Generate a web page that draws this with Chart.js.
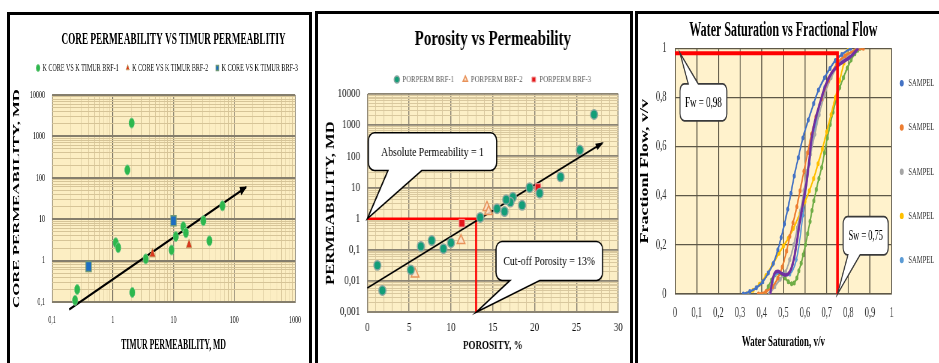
<!DOCTYPE html>
<html lang="en">
<head>
<meta charset="utf-8">
<title>Core permeability, porosity and fractional flow</title>
<script src="https://cdn.jsdelivr.net/npm/chart.js@4.4.1/dist/chart.umd.min.js"></script>
<style>
  html, body { margin: 0; padding: 0; background: #fff; }
  body { position: relative; width: 939px; height: 363px; overflow: hidden; }
  .frame { position: absolute; box-sizing: border-box; height: 420px; border: 3px solid #000; }
  canvas { position: absolute; top: 0; }
</style>
</head>
<body>
<div class="frame" style="left:7px; top:12px; width:305px;"></div>
<div class="frame" style="left:315px; top:11px; width:318px;"></div>
<div class="frame" style="left:635px; top:11px; width:340px;"></div>
<canvas id="permChart" width="569" height="363" style="left:0; width:313px; height:363px;"></canvas>
<canvas id="poroChart" width="428" height="363" style="left:313px; width:321px; height:363px;"></canvas>
<canvas id="flowChart" width="508" height="363" style="left:634px; width:305px; height:363px;"></canvas>
<script>
// ---------- Core permeability vs Timur permeability (mD) ----------
const timurBrf1 = [2.05, 1.74, 1.12, 1.23, 3.5, 9.3, 10.9, 14.5, 16, 31, 39, 64, 2.1, 0.26, 0.24];
const coreBrf1  = [2100, 155, 2.7, 2.05, 1.1, 1.8, 3.8, 6.6, 4.7, 9.2, 3.0, 21, 0.17, 0.2, 0.11];
const timurBrf2 = [4.5, 18];
const coreBrf2  = [1.45, 2.4];
const timurBrf3 = [0.4, 10];
const coreBrf3  = [0.72, 9.2];
const timurTrend = [0.193, 156];
const coreTrend  = [0.0667, 59];
const timurRange = [0.1, 1000];
const coreRange  = [0.1, 10000];
const permLegend = ['K CORE VS K TIMUR BRF-1', 'K CORE VS K TIMUR BRF-2', 'K CORE VS K TIMUR BRF-3'];

// ---------- Porosity (%) vs permeability (mD) ----------
const porosityBrf1 = [27.1, 25.4, 23.1, 20.6, 19.4, 18.5, 17.4, 17.1, 16.6, 16.4, 15.5, 13.5, 10, 9.1, 7.7, 6.4, 5.2, 1.2, 1.8];
const permBrf1     = [2200, 160, 22, 6.6, 9.9, 2.7, 4.9, 3.4, 4.1, 1.7, 2.1, 1.1, 0.17, 0.11, 0.2, 0.13, 0.023, 0.032, 0.005];
const porosityBrf2 = [5.7, 11.2, 14.3, 14.5];
const permBrf2     = [0.017, 0.2, 2.3, 1.7];
const porosityBrf3 = [11.3, 20.4];
const permBrf3     = [0.72, 10];
const porosityTrend = [0, 28.1];
const permTrend     = [0.006, 265];
const porosityRange = [0, 30];
const permRange     = [0.001, 10000];
const cutoffPorosity = 13;
const absolutePermeability = 1;
const poroLegend = ['PORPERM BRF-1', 'PORPERM BRF-2', 'PORPERM BRF-3'];

// ---------- Water saturation vs fractional flow ----------
const swBlue   = [0.315, 0.345, 0.375, 0.405, 0.43, 0.454, 0.475, 0.49, 0.505, 0.52, 0.535, 0.55, 0.569, 0.59, 0.615, 0.64, 0.662, 0.69, 0.715, 0.74, 0.77, 0.81];
const fwBlue   = [0, 0.01, 0.025, 0.05, 0.085, 0.125, 0.18, 0.23, 0.285, 0.345, 0.41, 0.48, 0.555, 0.635, 0.708, 0.775, 0.83, 0.88, 0.918, 0.95, 0.975, 1.0];
const swOrange = [0.385, 0.42, 0.45, 0.475, 0.495, 0.515, 0.53, 0.545, 0.562, 0.577, 0.595, 0.612, 0.63, 0.65, 0.677, 0.708, 0.746, 0.785, 0.83, 0.869];
const fwOrange = [0, 0.01, 0.03, 0.065, 0.11, 0.175, 0.235, 0.29, 0.355, 0.42, 0.5, 0.575, 0.65, 0.72, 0.795, 0.87, 0.935, 0.97, 0.99, 1.0];
const swGrey   = [0.435, 0.46, 0.485, 0.51, 0.53, 0.548, 0.565, 0.58, 0.595, 0.61, 0.625, 0.645, 0.665, 0.69, 0.72, 0.76, 0.8, 0.84];
const fwGrey   = [0, 0.03, 0.06, 0.09, 0.14, 0.2, 0.27, 0.34, 0.42, 0.5, 0.57, 0.65, 0.73, 0.81, 0.88, 0.94, 0.975, 1.0];
const swYellow = [0.33, 0.36, 0.39, 0.42, 0.45, 0.48, 0.5, 0.523, 0.546, 0.577, 0.6, 0.62, 0.64, 0.66, 0.68, 0.7, 0.72, 0.74, 0.76, 0.78, 0.8];
const fwYellow = [0, 0.015, 0.04, 0.075, 0.12, 0.166, 0.195, 0.227, 0.267, 0.328, 0.376, 0.42, 0.47, 0.53, 0.59, 0.66, 0.73, 0.8, 0.87, 0.94, 1.0];
const swSky    = [0.435, 0.45, 0.47, 0.5, 0.53, 0.56, 0.59, 0.62, 0.65, 0.69, 0.74, 0.8, 0.85];
const fwSky    = [0, 0.05, 0.085, 0.08, 0.08, 0.14, 0.32, 0.53, 0.69, 0.84, 0.92, 0.96, 1.0];
const swGreen  = [0.415, 0.43, 0.446, 0.462, 0.477, 0.493, 0.508, 0.523, 0.538, 0.55, 0.562, 0.572, 0.582, 0.592, 0.602, 0.612, 0.623, 0.632, 0.641, 0.652, 0.664, 0.677, 0.69, 0.703, 0.716, 0.729, 0.743, 0.76, 0.777, 0.795, 0.812, 0.83, 0.843, 0.854];
const fwGreen  = [0, 0.03, 0.057, 0.078, 0.087, 0.08, 0.065, 0.05, 0.042, 0.045, 0.065, 0.095, 0.125, 0.16, 0.2, 0.245, 0.295, 0.34, 0.38, 0.425, 0.47, 0.515, 0.575, 0.635, 0.69, 0.74, 0.79, 0.84, 0.88, 0.92, 0.952, 0.978, 0.992, 1.0];
const swPurple = [0.44, 0.448, 0.46, 0.475, 0.49, 0.505, 0.52, 0.535, 0.548, 0.56, 0.572, 0.585, 0.597, 0.608, 0.62, 0.63, 0.645, 0.67, 0.695, 0.723, 0.76, 0.81, 0.846];
const fwPurple = [0, 0.05, 0.085, 0.092, 0.085, 0.078, 0.08, 0.1, 0.14, 0.2, 0.27, 0.34, 0.4, 0.46, 0.55, 0.63, 0.7, 0.78, 0.85, 0.9, 0.935, 0.966, 1.0];
const fwCutoff = 0.98;
const swCutoff = 0.75;
const flowLegend = 'SAMPEL';

// ---------- helpers ----------
const SERIF = "'Liberation Serif', 'Times New Roman', serif";
Chart.defaults.font.family = SERIF;
Chart.defaults.color = '#000';

const pairs = (xs, ys) => xs.map((v, i) => ({ x: v, y: ys[i] }));
const decimalComma = v => String(Number(Number(v).toPrecision(6))).replace('.', ',');
const isDecade = v => Math.abs(Math.log10(v) - Math.round(Math.log10(v))) < 1e-9;
function logTicks(min, max) {
  const out = [];
  for (let e = Math.round(Math.log10(min)); e < Math.round(Math.log10(max)); e++) {
    for (let m = 1; m <= 9; m++) out.push(Number((m * Math.pow(10, e)).toPrecision(6)));
  }
  out.push(max);
  return out.map(v => ({ value: v }));
}

// fills the plotting area
const plotBackground = {
  id: 'plotBackground',
  beforeDraw(chart, args, opts) {
    const { ctx, chartArea: a } = chart;
    ctx.save();
    ctx.fillStyle = opts.color;
    ctx.fillRect(a.left, a.top, a.width, a.height);
    ctx.restore();
  }
};

// shifts the legend after layout without changing the plot area
const legendOffset = {
  id: 'legendOffset',
  afterLayout(chart, args, opts) {
    const lg = chart.legend;
    if (!lg) return;
    const dx = opts.dx || 0, dy = opts.dy || 0;
    lg.left += dx;
    if (lg.isHorizontal()) lg.right += dx;   // vertical lists keep their right edge so labels are not clipped
    lg.top += dy; lg.bottom += dy;
  }
};

// arrow tips on trend lines
const arrowHeads = {
  id: 'arrowHeads',
  afterDatasetsDraw(chart, args, opts) {
    const { ctx } = chart;
    chart.data.datasets.forEach((ds, i) => {
      if (!ds.arrow) return;
      const pts = chart.getDatasetMeta(i).data;
      const a = pts[pts.length - 2], b = pts[pts.length - 1];
      const ang = Math.atan2(b.y - a.y, b.x - a.x);
      ctx.save();
      ctx.fillStyle = ds.borderColor;
      ctx.translate(b.x, b.y);
      ctx.rotate(ang);
      ctx.beginPath();
      ctx.moveTo(2, 0);
      ctx.lineTo(-opts.length, -opts.width);
      ctx.lineTo(-opts.length, opts.width);
      ctx.closePath();
      ctx.fill();
      ctx.restore();
    });
  }
};

// speech-bubble labels anchored on data values
const callouts = {
  id: 'callouts',
  afterDatasetsDraw(chart, args, opts) {
    const { ctx, scales: { x, y } } = chart;
    (opts.items || []).forEach(c => {
      const L = x.getPixelForValue(c.box[0]), R = x.getPixelForValue(c.box[1]);
      const T = y.getPixelForValue(c.box[2]), B = y.getPixelForValue(c.box[3]);
      const b1 = x.getPixelForValue(c.base[0]), b2 = x.getPixelForValue(c.base[1]);
      const tx = x.getPixelForValue(c.tip[0]), ty = y.getPixelForValue(c.tip[1]);
      const r = opts.radius;
      ctx.save();
      ctx.beginPath();
      ctx.moveTo(L + r, T);
      if (c.side === 'top') { ctx.lineTo(b1, T); ctx.lineTo(tx, ty); ctx.lineTo(b2, T); }
      ctx.lineTo(R - r, T);
      ctx.arcTo(R, T, R, T + r, r);
      ctx.lineTo(R, B - r);
      ctx.arcTo(R, B, R - r, B, r);
      if (c.side === 'bottom') { ctx.lineTo(b2, B); ctx.lineTo(tx, ty); ctx.lineTo(b1, B); }
      ctx.lineTo(L + r, B);
      ctx.arcTo(L, B, L, B - r, r);
      ctx.lineTo(L, T + r);
      ctx.arcTo(L, T, L + r, T, r);
      ctx.closePath();
      ctx.fillStyle = '#fff';
      ctx.fill();
      ctx.lineWidth = opts.lineWidth;
      ctx.strokeStyle = opts.stroke;
      ctx.stroke();
      ctx.fillStyle = '#000';
      ctx.font = `${c.size}px ${SERIF}`;
      ctx.textAlign = 'center';
      ctx.textBaseline = 'middle';
      ctx.fillText(c.text, (L + R) / 2, (T + B) / 2 + 1);
      ctx.restore();
    });
  }
};

const base = {
  responsive: false,
  devicePixelRatio: 1,
  animation: false,
  events: []
};

// ---------- chart 1 ----------
const major1 = '#857E6C', minor1 = '#D6C497';
new Chart(document.getElementById('permChart'), {
  type: 'scatter',
  data: {
    datasets: [
      { label: permLegend[0], data: pairs(timurBrf1, coreBrf1), pointStyle: 'circle', pointRadius: 5,
        backgroundColor: '#2DB84D', borderColor: '#7DCB8C', borderWidth: 1, clip: false },
      { label: permLegend[1], data: pairs(timurBrf2, coreBrf2), pointStyle: 'triangle', pointRadius: 6,
        backgroundColor: '#D9381E', borderColor: '#C9A46C', borderWidth: 1, clip: false },
      { label: permLegend[2], data: pairs(timurBrf3, coreBrf3), pointStyle: 'rect', pointRadius: 7,
        backgroundColor: '#1C6EC2', borderColor: '#6F9877', borderWidth: 1.5, clip: false },
      { type: 'line', label: 'trend', data: pairs(timurTrend, coreTrend), borderColor: '#000',
        backgroundColor: '#000', borderWidth: 2.4, pointRadius: 0, clip: false, arrow: true }
    ]
  },
  options: {
    ...base,
    layout: { padding: { left: 0, top: 0, right: 32.7, bottom: 0 }, autoPadding: false },
    scales: {
      x: {
        type: 'logarithmic', min: timurRange[0], max: timurRange[1],
        afterBuildTicks: s => { s.ticks = logTicks(timurRange[0], timurRange[1]); },
        afterFit: s => { s.height = 61; },
        ticks: { autoSkip: false, maxRotation: 0, padding: 11.4, font: { size: 11 }, color: '#111',
                 callback: v => isDecade(v) ? decimalComma(v) : '' },
        grid: { drawTicks: false,
                color: c => c.tick && isDecade(c.tick.value) ? major1 : minor1,
                lineWidth: c => c.tick && isDecade(c.tick.value) ? 1.6 : 1 },
        border: { color: major1, width: 1 },
        title: { display: true, text: 'TIMUR PERMEABILITY, MD', font: { size: 14, weight: 'bold' },
                 padding: { top: 0, bottom: 9.6 } }
      },
      y: {
        type: 'logarithmic', min: coreRange[0], max: coreRange[1],
        afterBuildTicks: s => { s.ticks = logTicks(coreRange[0], coreRange[1]); },
        afterFit: s => { s.width = 94.5; },
        ticks: { autoSkip: false, padding: 12.7, font: { size: 11 }, color: '#111',
                 callback: v => isDecade(v) ? decimalComma(v) : '' },
        grid: { drawTicks: false,
                color: c => c.tick && isDecade(c.tick.value) ? major1 : minor1,
                lineWidth: c => c.tick && isDecade(c.tick.value) ? 2 : 1 },
        border: { color: major1, width: 1 },
        title: { display: true, text: 'CORE PERMEABILITY, MD', font: { size: 16.8, weight: 'bold' },
                 padding: { top: 20.8, bottom: 0 } }
      }
    },
    plugins: {
      title: { display: true, text: 'CORE PERMEABILITY VS TIMUR PERMEABLITIY', fullSize: false,
               font: { size: 16.8, weight: 'bold' }, padding: { top: 30, bottom: 9.84 } },
      legend: { position: 'top',
                labels: { usePointStyle: true, boxWidth: 5, boxHeight: 5, padding: 14,
                          font: { size: 11 }, color: '#111',
                          filter: item => item.datasetIndex < 3 } },
      tooltip: { enabled: false },
      plotBackground: { color: '#FCEEC3' },
      legendOffset: { dx: 36, dy: -11.5 },
      arrowHeads: { length: 11, width: 4.5 }
    }
  },
  plugins: [plotBackground, legendOffset, arrowHeads]
});

// ---------- chart 2 ----------
const major2 = '#8C8574', minor2 = '#D9C89E';
new Chart(document.getElementById('poroChart'), {
  type: 'scatter',
  data: {
    datasets: [
      { label: poroLegend[0], data: pairs(porosityBrf1, permBrf1), pointStyle: 'circle', pointRadius: 4.7,
        backgroundColor: '#129E78', borderColor: '#8AA7A1', borderWidth: 1.5, clip: false },
      { label: poroLegend[1], data: pairs(porosityBrf2, permBrf2), pointStyle: 'triangle', pointRadius: 6,
        backgroundColor: 'rgba(252,226,200,0.85)', borderColor: '#E8925A', borderWidth: 1.5, clip: false },
      { label: poroLegend[2], data: pairs(porosityBrf3, permBrf3), pointStyle: 'rect', pointRadius: 5.4,
        backgroundColor: '#E3161B', borderColor: '#F2A3A0', borderWidth: 1, clip: false },
      { type: 'line', label: 'trend', data: pairs(porosityTrend, permTrend), borderColor: '#000',
        backgroundColor: '#000', borderWidth: 1.8, pointRadius: 0, clip: false, arrow: true },
      { type: 'line', label: 'cut-off',
        data: [{ x: porosityRange[0], y: absolutePermeability }, { x: cutoffPorosity, y: absolutePermeability },
               { x: cutoffPorosity, y: permRange[0] }],
        borderColor: '#FF0000', borderWidth: 2.6, pointRadius: 0, tension: 0, clip: false }
    ]
  },
  options: {
    ...base,
    layout: { padding: { left: 0, top: 0, right: 20.9, bottom: 0 }, autoPadding: false },
    scales: {
      x: {
        type: 'linear', min: porosityRange[0], max: porosityRange[1],
        afterBuildTicks: s => { s.ticks = Array.from({ length: 31 }, (_, i) => ({ value: i })); },
        afterFit: s => { s.height = 50.7; },
        ticks: { autoSkip: false, maxRotation: 0, padding: 8.5, font: { size: 12 }, color: '#111',
                 callback: v => v % 5 === 0 ? String(v) : '' },
        grid: { drawTicks: false,
                color: c => c.tick && c.tick.value % 5 === 0 ? major2 : minor2,
                lineWidth: c => c.tick && c.tick.value % 5 === 0 ? 1.4 : 1 },
        border: { color: major2, width: 1 },
        title: { display: true, text: 'POROSITY, %', font: { size: 12, weight: 'bold' },
                 padding: { top: 0, bottom: 9.8 } }
      },
      y: {
        type: 'logarithmic', min: permRange[0], max: permRange[1],
        afterBuildTicks: s => { s.ticks = logTicks(permRange[0], permRange[1]); },
        afterFit: s => { s.width = 72.4; },
        ticks: { autoSkip: false, padding: 9.7, font: { size: 12 }, color: '#111',
                 callback: v => isDecade(v) ? decimalComma(v) : '' },
        grid: { drawTicks: false,
                color: c => c.tick && isDecade(c.tick.value) ? major2 : minor2,
                lineWidth: c => c.tick && isDecade(c.tick.value) ? 1.8 : 1 },
        border: { color: major2, width: 1 },
        title: { display: true, text: 'PERMEABILITY, MD', font: { size: 16.5, weight: 'bold' },
                 padding: { top: 14.1, bottom: 0 } }
      }
    },
    plugins: {
      title: { display: true, text: 'Porosity vs Permeability', fullSize: false,
               font: { size: 20, weight: 'bold' }, padding: { top: 28, bottom: 11 } },
      legend: { position: 'top', fullSize: false,
                labels: { usePointStyle: true, boxWidth: 6, boxHeight: 5, padding: 12,
                          font: { size: 9 }, color: '#595959',
                          filter: item => item.datasetIndex < 3 } },
      tooltip: { enabled: false },
      plotBackground: { color: '#FCEFC6' },
      arrowHeads: { length: 9, width: 3.5 },
      callouts: {
        radius: 8, lineWidth: 1.6, stroke: '#000',
        items: [
          { text: `Absolute Permeability = ${decimalComma(absolutePermeability)}`, size: 13,
            box: [0.12, 15.46, 570, 35.3], side: 'bottom', base: [2.47, 6.5],
            tip: [porosityRange[0], absolutePermeability] },
          { text: `Cut-off Porosity = ${decimalComma(cutoffPorosity)}%`, size: 13,
            box: [15.38, 28.12, 0.187, 0.0105], side: 'bottom', base: [17.05, 20.6],
            tip: [cutoffPorosity, permRange[0]] }
        ]
      }
    }
  },
  plugins: [plotBackground, arrowHeads, callouts]
});

// ---------- chart 3 ----------
const flowSeries = [
  { sw: swBlue, fw: fwBlue, color: '#4472C4', r: 2.5, w: 2.4 },
  { sw: swOrange, fw: fwOrange, color: '#ED7D31', r: 2.5, w: 2.4 },
  { sw: swGrey, fw: fwGrey, color: '#A5A5A5', r: 2.5, w: 2.4 },
  { sw: swYellow, fw: fwYellow, color: '#FFC000', r: 2.5, w: 2.4 },
  { sw: swSky, fw: fwSky, color: '#5B9BD5', r: 2.3, w: 2.2 },
  { sw: swGreen, fw: fwGreen, color: '#70AD47', r: 2.5, w: 2.4 },
  { sw: swPurple, fw: fwPurple, color: '#7030A0', r: 0, w: 3.6 }
];
const gridFlow = '#5E5847';
new Chart(document.getElementById('flowChart'), {
  type: 'line',
  data: {
    datasets: [
      ...flowSeries.map((s, i) => ({
        label: flowLegend, data: pairs(s.sw, s.fw), borderColor: s.color, backgroundColor: s.color,
        pointBackgroundColor: s.color, pointBorderColor: s.color, pointBorderWidth: 0,
        pointRadius: s.r, borderWidth: s.w, tension: 0.4, fill: false,
        order: i === 6 ? 1 : 2
      })),
      { label: 'cut-off',
        data: [{ x: 0, y: fwCutoff }, { x: swCutoff, y: fwCutoff }, { x: swCutoff, y: 0 }],
        borderColor: '#FF0000', backgroundColor: '#FF0000', borderWidth: 4, pointRadius: 0,
        tension: 0, clip: false, order: 0 }
    ]
  },
  options: {
    ...base,
    layout: { padding: 0, autoPadding: false },
    scales: {
      x: {
        type: 'linear', min: 0, max: 1,
        afterFit: s => { s.height = 69; },
        ticks: { stepSize: 0.1, autoSkip: false, maxRotation: 0, padding: 10.9, font: { size: 14 }, color: '#333',
                 callback: v => decimalComma(Math.round(v * 100) / 100) },
        grid: { drawTicks: false, color: gridFlow, lineWidth: 1.6 },
        border: { color: gridFlow, width: 1.6 },
        title: { display: true, text: 'Water Saturation, v/v', font: { size: 15, weight: 'bold' },
                 padding: { top: 0, bottom: 12.3 } }
      },
      y: {
        type: 'linear', min: 0, max: 1,
        afterFit: s => { s.width = 68.3; },
        ticks: { stepSize: 0.2, autoSkip: false, padding: 14.2, font: { size: 14 }, color: '#333',
                 callback: v => decimalComma(Math.round(v * 100) / 100) },
        grid: { drawTicks: false, color: gridFlow, lineWidth: 1.2 },
        border: { color: gridFlow, width: 1.2 },
        title: { display: true, text: 'Fractionl Flow, v/v', font: { size: 18, weight: 'bold' },
                 padding: { top: 7.5, bottom: 0 } }
      }
    },
    plugins: {
      title: { display: true, text: 'Water Saturation vs Fractional Flow', fullSize: false,
               font: { size: 20, weight: 'bold' }, padding: { top: 18.6, bottom: 5.7 } },
      legend: { position: 'right', maxWidth: 78.8,
                labels: { usePointStyle: true, boxWidth: 11, boxHeight: 4.5, padding: 33.2,
                          font: { size: 11 }, color: '#404040',
                          generateLabels: chart => Chart.defaults.plugins.legend.labels.generateLabels(chart)
                            .map(it => Object.assign(it, { lineWidth: 0, pointStyle: 'circle' })),
                          filter: item => item.datasetIndex < 5 } },
      tooltip: { enabled: false },
      plotBackground: { color: '#FFF2CC' },
      legendOffset: { dx: -22, dy: -9.8 },
      callouts: {
        radius: 7, lineWidth: 1.8, stroke: '#3A3A3A',
        items: [
          { text: `Fw = ${decimalComma(fwCutoff)}`, size: 15,
            box: [0.023, 0.239, 0.855, 0.705], side: 'top', base: [0.061, 0.107],
            tip: [0.023, fwCutoff] },
          { text: `Sw = ${decimalComma(swCutoff)}`, size: 14,
            box: [0.776, 0.984, 0.315, 0.159], side: 'bottom', base: [0.798, 0.854],
            tip: [swCutoff, 0] }
        ]
      }
    }
  },
  plugins: [plotBackground, legendOffset, callouts]
});
</script>
</body>
</html>
